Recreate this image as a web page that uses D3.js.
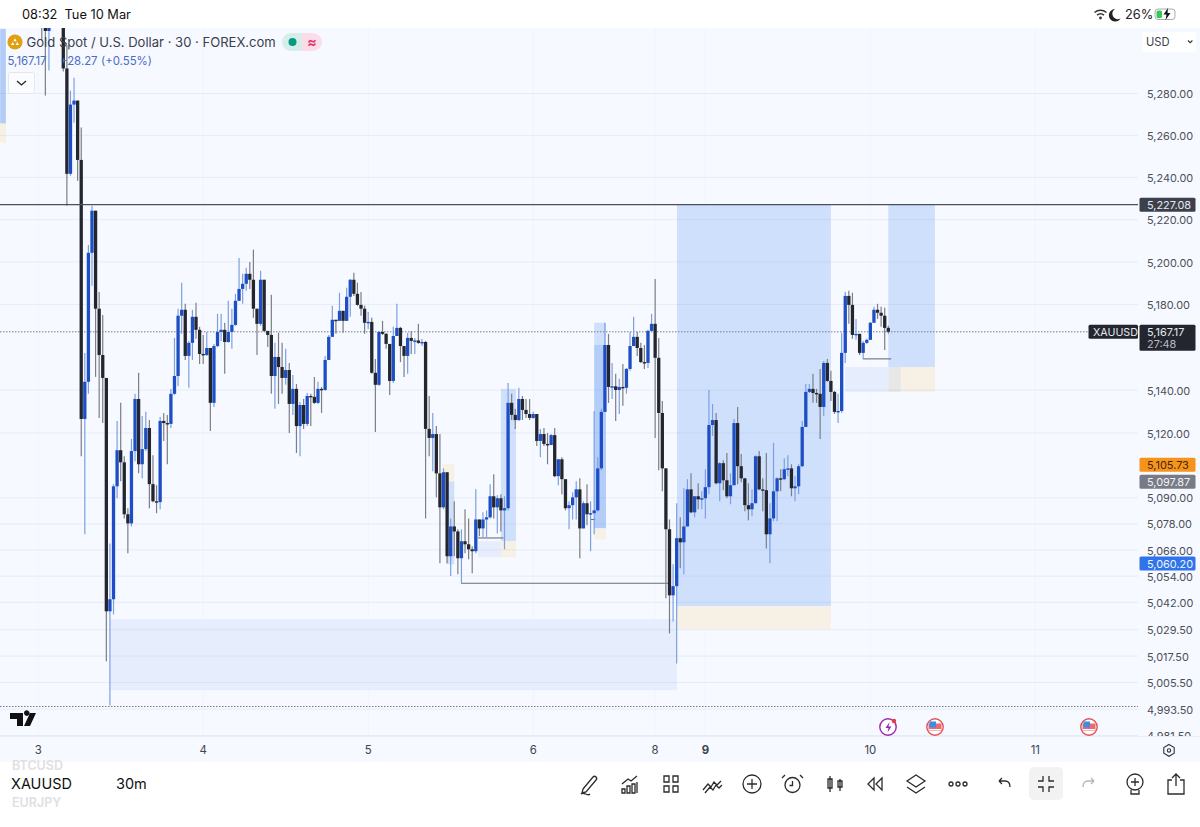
<!DOCTYPE html>
<html>
<head>
<meta charset="utf-8">
<script src="https://cdn.jsdelivr.net/npm/d3@7"></script>
<style>
html,body{margin:0;padding:0;background:#fff;overflow:hidden}
text{font-family:Inter,"Noto Sans",sans-serif}
</style>
</head>
<body>
<script>
// 30m XAUUSD bars, oldest first. A bar opens where the previous one closed.
var firstOpen = 5320;
var closes = [
5314.8,5310,5314.8,5320,5324,5318,5292,5241.7,5274.7,5276.6,5248.3,5126.5,5143.8,5204.3,5224.2,5178,5156.3,5145.6,5037.9,5043.4,
5095.3,5112,5106.4,5082.4,5078.2,5111.6,5135.8,5105.5,5112.5,5122.3,5096.3,5088.4,5088,5125.6,5124.6,5124.2,5138.2,5146.5,5174.7,5177.5,
5155.9,5162,5174.2,5168.1,5156.8,5156.3,5159.6,5134,5160.5,5167.1,5168.1,5162.4,5167.1,5170.4,5181.7,5187.3,5189.7,5194.4,5191.6,5178,
5170.9,5191.6,5167.6,5165.7,5146.5,5155.4,5150.7,5145.6,5149.3,5133.5,5140.5,5123.2,5133,5124.2,5137.2,5136.8,5134,5140.5,5140,5154,
5164.8,5172.8,5172.3,5177,5172.3,5183.6,5191.6,5185,5179.8,5178,5171.4,5171.8,5148,5142.4,5167.1,5166.2,5161.5,5144.2,5165.2,5169,
5160.5,5155.9,5164.3,5162.9,5163.1,5162,5162.4,5121.9,5117.7,5119.5,5101.3,5085.6,5101.8,5063.1,5076.8,5074.5,5062.2,5070,5068.6,5066.3,
5065.4,5080,5075.9,5080,5081,5090.7,5085.6,5089.8,5084.2,5085.2,5134,5128.4,5126,5135.8,5130.7,5128.8,5127,5128.8,5116.3,5119.5,
5114.9,5114.4,5119,5100,5107.8,5098.6,5085.2,5086.6,5090.2,5093.9,5075.9,5087.5,5082.4,5082.9,5084.2,5103.6,5129.8,5161,5141.4,5141.7,
5140,5141.4,5141,5149.8,5160.5,5164.8,5159.6,5153,5152.6,5167.6,5170.9,5155,5129.3,5103.6,5075.5,5045.2,5049.4,5071.4,5069.5,5076.8,
5093.9,5083.3,5090.7,5089.3,5089.8,5094.9,5123.7,5126,5096.7,5106,5098.1,5090.7,5095.8,5124.6,5104.6,5099,5086.6,5084.7,5087.5,5109.2,
5093.9,5093.5,5073.2,5080.5,5093,5099,5098.6,5103.2,5103.6,5094.4,5095.3,5104.6,5122.8,5139.1,5140.5,5138.6,5138.2,5132.1,5152.6,5144.2,
5139.1,5129.8,5130.2,5157.3,5184,5179.8,5165.7,5166.2,5157.3,5162,5163.4,5171.4,5177.5,5176.1,5174.7,5169,5167.17
];
var highs = [
5319.6,5317,5319.6,5326,5330,5328,5322,5303,5281.4,5287.6,5276.6,5263.7,5157.3,5208,5226.5,5224.2,5185.9,5175.1,5145.6,5069,
5096.3,5125.6,5134,5109.2,5085.2,5117.2,5138.2,5148,5127.9,5129.8,5126,5109.7,5095.8,5127.4,5129.3,5128.4,5140.5,5164.3,5178,5190.2,
5180.3,5162.9,5177.5,5180.8,5169.5,5165.7,5167.1,5159.6,5161.5,5175.6,5175.6,5171.4,5181.7,5178,5185,5201.9,5194.4,5197.2,5200,5205.8,
5178,5195.8,5191.6,5167.6,5184.5,5162,5166.7,5162,5159.2,5152.6,5147,5142.8,5134.4,5135.8,5138.6,5138.2,5146.1,5143.8,5141.4,5155.9,
5165.7,5179.4,5172.8,5185.5,5177,5187.8,5192,5194.9,5190.2,5185.9,5179.4,5176.5,5173.7,5154.5,5167.6,5172.3,5166.7,5161.5,5169.5,5180.3,
5169.5,5160.5,5166.7,5167.6,5164.3,5170.9,5163.8,5162.9,5137.2,5129.3,5123.2,5119.5,5103.6,5101.8,5080.5,5088.4,5075.5,5075.5,5084.7,5080.5,
5067.7,5093.9,5080,5083.3,5084.2,5096.3,5100.9,5091.2,5091.6,5090.7,5143.3,5138.2,5131.2,5141,5137.2,5135.8,5135.8,5129.8,5128.8,5121.9,
5122.3,5120,5119.5,5122.3,5107.8,5108.7,5098.6,5088.4,5092.6,5097.6,5099,5088.4,5096.3,5088.4,5130.2,5108.7,5131.2,5171.4,5166.2,5152.6,
5147.5,5145.2,5152.1,5150.2,5167.1,5174.2,5167.1,5162,5161,5168.1,5175.6,5192,5164.3,5134.9,5103.6,5080,5059.4,5087.5,5081,5094.4,
5098.6,5101.3,5090.7,5096.7,5093,5103.2,5140,5133.5,5129.3,5106.4,5107.3,5110.7,5101.3,5126.5,5132.1,5110.2,5099,5096.7,5093.9,5109.7,
5111.6,5099,5110.7,5087.5,5115.4,5099.5,5103.2,5108.3,5109.7,5105.5,5100,5105.5,5125.6,5142.8,5142.8,5147.5,5140.5,5149.8,5153.5,5154.5,
5148.9,5139.6,5138.2,5166.7,5185.9,5186.4,5185.5,5173.2,5166.2,5162.9,5163.9,5171.8,5178.9,5180.3,5178.9,5178.5,5170
];
var lows = [
5305.3,5279,5291,5313,5316,5313,5290.5,5226.5,5240.8,5266,5238.4,5109.2,5073.2,5138.2,5188.8,5146.1,5127,5124.6,5015.1,4995.1,
5036.5,5089.8,5097.6,5080.5,5064.5,5076.8,5106.9,5101.3,5099,5111.6,5085.2,5088,5082.9,5084.7,5116.3,5105.5,5122.3,5137.7,5141.9,5166.2,
5154,5141,5154,5163.9,5152.1,5152.1,5155.9,5120.9,5132.1,5160,5162.9,5147.5,5162,5159.2,5169.9,5181.7,5180.3,5186.4,5187.3,5173.7,
5156.3,5169.9,5167.1,5160,5138.2,5131.2,5133.5,5138.2,5142.4,5120,5128.4,5110.7,5109.2,5121.9,5123.2,5123.2,5133.5,5133.5,5129.3,5139.6,
5159.2,5164.8,5166.2,5172.3,5166.7,5172.3,5174.2,5184,5179.4,5174.7,5166.2,5168.5,5147.5,5120.5,5141.9,5165.7,5159.2,5137.7,5143.3,5165.2,
5153,5146.1,5147.5,5156.8,5156.8,5161.5,5160.5,5080.5,5109.2,5102.3,5090.2,5059.9,5084.7,5059.9,5054,5063.1,5054.9,5050.7,5064.5,5061.7,
5055.3,5064.5,5072.3,5071.9,5071.9,5080.5,5080.5,5073.6,5074.5,5066.3,5084.2,5126,5121.9,5125.6,5126,5127,5126,5126.5,5113.9,5108.7,
5113.9,5105.5,5114.4,5099.5,5095.8,5091.6,5084.2,5075.5,5080,5080,5062.2,5075.9,5077.3,5065.4,5073.2,5083.8,5102.7,5129.8,5134,5135.8,
5125.6,5128.8,5132.6,5138.2,5148.9,5160.5,5155.9,5152.6,5149.8,5150.2,5167.1,5117.7,5102.7,5093,5043.9,5027.8,5033.3,5014.1,5057.6,5054.9,
5076.8,5082.9,5081,5084.7,5084.7,5080.5,5091.6,5118.6,5096.3,5088.4,5093.5,5089.8,5087,5095.8,5096.3,5097.2,5083.8,5079.6,5081.5,5087.5,
5093.5,5083.8,5066.7,5059.9,5079.2,5079.2,5093,5098.1,5100,5090.7,5088.4,5091.6,5104.1,5123.2,5138.6,5134,5134,5117.2,5127.9,5143.8,
5134.9,5128.8,5124.6,5129.3,5152.6,5170.9,5163.9,5163.4,5156.3,5154.5,5161.5,5163.4,5171.4,5173.2,5169.5,5158.7,5166.2
];

var priceTicks = [5280,5260,5240,5220,5200,5180,5140,5120,5090,5078,5066,5054,5042,5029.5,5017.5,5005.5,4993.5,4981.5];

// date ticks, counted in bars back from the latest bar
var dateLabels = ["3","4","5","6","8","9","10","11"];
var dateBarsBack = [237,191,145,99,65,51,5,-41];

// marked zones: kind, bars back from / to, top and bottom price
var zoneKinds  = ["blue","orange","light","blue","light","grey","orange","blue2","orange","blue","orange","light","blue","blue2","orange","blue","orange"];
var zoneFrom   = [58.9,58.9,216.9,0,12,0,-3.5,247.6,247.6,108,108,114.4,82,82,82,123.2,124.3];
var zoneTo     = [16,16,58.9,-13,0,-3.5,-13,246,246,103.8,103.8,108,78.7,78.7,78.7,121,121];
var zoneTop    = [5227.08,5040.2,5034.3,5227.08,5150.7,5150.7,5150.7,5311,5265.6,5140.5,5070,5070,5171.4,5161,5075.9,5097.6,5105.5];
var zoneBottom = [5040.2,5029.7,5002,5150.7,5139.1,5139.1,5139.1,5265.6,5256.5,5070,5062.7,5062.7,5161,5075.9,5070.9,5059.4,5097.6];

var levelPrices = [5050.7,5071.5,5154.5,5080];
var levelFrom   = [119.1,114.4,7.1,83];
var levelTo     = [61,107.3,-0.8,81.7];

var highLine = 5227.08, lastPrice = 5167.17, lowDotted = 4994.6;
var tagValues = [5105.73,5097.87,5060.20];
var tagFills  = ["#f7931a","#787b86","#2f74ea"];
var tagInks   = ["#3d2a10","#f2f3f5","#eef4ff"];

var W = 1200, H = 827, axisX = 1138, chartTop = 28, chartBottom = 736;
var upBody = "#1d4ec4", downBody = "#23262f", upWick = "#7d9fe2", downWick = "#7c7e84";

var svg = d3.select("body").append("svg").attr("width",W).attr("height",H).style("display","block");
svg.append("rect").attr("width",W).attr("height",H).attr("fill","#fff");
svg.append("rect").attr("y",chartTop).attr("width",W).attr("height",762-chartTop).attr("fill","#f6f9ff");

var n = closes.length;
var opens = closes.map(function(c,i){return i==0 ? firstOpen : closes[i-1]});
var y = d3.scaleLog().domain([4981.5,5280]).range([735.5,93.5]);
var xBack = d3.scaleLinear().domain([0,100]).range([888.3,888.3-358.7]);
var x = function(i){return xBack(n-1-i)};

var defs = svg.append("defs");
defs.append("clipPath").attr("id","plot").append("rect")
    .attr("y",chartTop).attr("width",axisX).attr("height",chartBottom-chartTop);
defs.append("clipPath").attr("id","scale").append("rect")
    .attr("x",-10).attr("y",chartTop).attr("width",70).attr("height",chartBottom-chartTop);
var plot = svg.append("g").attr("clip-path","url(#plot)");

// vertical grid
plot.selectAll(".vgrid").data(dateBarsBack).enter().append("line").attr("class","vgrid")
    .attr("x1",xBack).attr("x2",xBack).attr("y1",chartTop).attr("y2",chartBottom)
    .attr("stroke","#f1f4fb");

// zones
var zoneFill = {blue:"#cfe0fc",blue2:"#b4cdf8",orange:"#f7f0e5",light:"#e6edfd",grey:"#e8e7e8"};
plot.selectAll(".zone").data(zoneKinds).enter().append("rect").attr("class","zone")
    .attr("x",function(d,i){return xBack(zoneFrom[i])})
    .attr("width",function(d,i){return xBack(zoneTo[i])-xBack(zoneFrom[i])})
    .attr("y",function(d,i){return y(zoneTop[i])})
    .attr("height",function(d,i){return y(zoneBottom[i])-y(zoneTop[i])})
    .attr("fill",function(d){return zoneFill[d]});

// price grid
plot.selectAll(".hgrid").data(priceTicks).enter().append("line").attr("class","hgrid")
    .attr("x1",0).attr("x2",axisX).attr("y1",y).attr("y2",y)
    .attr("stroke","#7d8db0").attr("stroke-opacity",0.12);

// short drawn levels
plot.selectAll(".level").data(levelPrices).enter().append("line").attr("class","level")
    .attr("x1",function(d,i){return xBack(levelFrom[i])})
    .attr("x2",function(d,i){return xBack(levelTo[i])})
    .attr("y1",y).attr("y2",y)
    .attr("stroke","#6b6e75").attr("stroke-width",1.1);

// dotted price lines
plot.append("line").attr("x1",0).attr("x2",1090).attr("y1",y(lastPrice)).attr("y2",y(lastPrice))
    .attr("stroke","#777b84").attr("stroke-dasharray","1.5 1.5");
plot.append("line").attr("x1",0).attr("x2",axisX).attr("y1",y(lowDotted)).attr("y2",y(lowDotted))
    .attr("stroke","#777b84").attr("stroke-dasharray","1.5 1.5");

// candles
var isUp = function(i){return closes[i] >= opens[i]};
plot.selectAll(".wick").data(closes).enter().append("line").attr("class","wick")
    .attr("x1",function(d,i){return x(i)}).attr("x2",function(d,i){return x(i)})
    .attr("y1",function(d,i){return y(highs[i])}).attr("y2",function(d,i){return y(lows[i])})
    .attr("stroke",function(d,i){return isUp(i) ? upWick : downWick}).attr("stroke-width",1.2);
plot.selectAll(".body").data(closes).enter().append("rect").attr("class","body")
    .attr("x",function(d,i){return x(i)-1.65}).attr("width",3.3)
    .attr("y",function(d,i){return y(Math.max(opens[i],closes[i]))})
    .attr("height",function(d,i){return Math.max(1.4,Math.abs(y(opens[i])-y(closes[i])))})
    .attr("fill",function(d,i){return isUp(i) ? upBody : downBody});

// the level at 5,227.08 runs over the candles
plot.append("line").attr("x1",0).attr("x2",axisX).attr("y1",y(highLine)).attr("y2",y(highLine))
    .attr("stroke","#4d5058").attr("stroke-width",1.1);

// price axis
var yAxis = d3.axisRight(y).tickValues(priceTicks).tickFormat(d3.format(",.2f")).tickSize(0).tickPadding(0);
var axisG = svg.append("g").attr("transform","translate(1147,0.6)").attr("clip-path","url(#scale)").call(yAxis);
axisG.select(".domain").remove();
axisG.selectAll("text").style("font-family","Inter,sans-serif").style("font-size","10.9px").attr("fill","#4b4f58");

function label(x0,y0,txt,size,fill,weight){
    return svg.append("text").attr("x",x0).attr("y",y0).attr("font-size",size).attr("fill",fill)
        .attr("font-weight",weight||400).text(txt);
}
function tag(val,fill,ink,yy){
    svg.append("rect").attr("x",1139.5).attr("y",yy-7).attr("width",56).attr("height",14).attr("rx",1.5).attr("fill",fill);
    label(1147,yy+4.2,d3.format(",.2f")(val),10.9,ink);
}
tag(highLine,"#3c404d","#e8e9ec",y(highLine));
tagValues.forEach(function(v,i){tag(v,tagFills[i],tagInks[i],y(v)+1)});

// last price tag
svg.append("rect").attr("x",1139.5).attr("y",y(lastPrice)-7).attr("width",56).attr("height",26).attr("rx",1.5).attr("fill","#23262f");
label(1147,y(lastPrice)+4,d3.format(",.2f")(lastPrice),10.9,"#e8e9ec");
label(1147,y(lastPrice)+16,"27:48",10.9,"#b9bbc2");
svg.append("rect").attr("x",1088.5).attr("y",y(lastPrice)-7).attr("width",49.5).attr("height",14).attr("rx",1.5).attr("fill","#23262f");
label(1093,y(lastPrice)+4.2,"XAUUSD",10.7,"#e8e9ec");

// date axis
svg.append("line").attr("x1",0).attr("x2",W).attr("y1",736.5).attr("y2",736.5).attr("stroke","#e9edf5");
svg.selectAll(".date").data(dateLabels).enter().append("text").attr("class","date")
    .attr("x",function(d,i){return xBack(dateBarsBack[i])}).attr("y",754)
    .attr("text-anchor","middle").attr("font-size",11.4).attr("fill","#3f434c")
    .attr("font-weight",function(d){return d=="9" ? 700 : 400}).text(function(d){return d});
// settings hexagon
svg.append("path").attr("d","M1169 744.5l5.2 3v5.8l-5.2 3-5.2-3v-5.8z").attr("fill","none").attr("stroke","#33363d").attr("stroke-width",1.1);
svg.append("circle").attr("cx",1169).attr("cy",750.4).attr("r",1.7).attr("fill","none").attr("stroke","#33363d").attr("stroke-width",1.1);

// TradingView mark
svg.append("path").attr("d","M10 713h13v13h-6v-7h-7zM30 713h6l-6 13h-6zM24 713a2.8 2.8 0 1 1 0 .1z").attr("fill","#111");

// event icons
function flag(cx){
    svg.append("circle").attr("cx",cx).attr("cy",727).attr("r",8.2).attr("fill","#fff").attr("stroke","#e0525a").attr("stroke-width",1.4);
    svg.append("rect").attr("x",cx-6.5).attr("y",723.5).attr("width",13).attr("height",7.5).attr("fill","#ee6a70");
    svg.append("rect").attr("x",cx-5.5).attr("y",721.5).attr("width",6.5).attr("height",6).attr("fill","#3f8de0");
    svg.append("rect").attr("x",cx-6).attr("y",729).attr("width",12).attr("height",1.5).attr("fill","#fff");
}
flag(935); flag(1089);
svg.append("circle").attr("cx",888).attr("cy",727).attr("r",8.2).attr("fill","#fff").attr("stroke","#9c27b0").attr("stroke-width",1.4);
svg.append("path").attr("d","M889.5 722l-4 6h3l-1 4.5 4-6h-3z").attr("fill","#9c27b0");
svg.append("circle").attr("cx",894).attr("cy",721).attr("r",2.2).attr("fill","#e8393f");

// top status bar
svg.append("rect").attr("width",W).attr("height",chartTop).attr("fill","#fff");
label(22,18.5,"08:32",12.8,"#111");
label(64.5,18.5,"Tue 10 Mar",12.8,"#111");
svg.append("path").attr("d","M1094.5 12.5a9.5 9.5 0 0 1 12 0M1097 15.2a5.5 5.5 0 0 1 7 0").attr("fill","none").attr("stroke","#333").attr("stroke-width",1.5);
svg.append("circle").attr("cx",1100.5).attr("cy",18).attr("r",1.4).attr("fill","#333");
svg.append("path").attr("d","M1115 9a6.3 6.3 0 1 0 5.6 9.5a5.5 5.5 0 0 1 -5.6 -9.5z").attr("fill","#222");
label(1125,18.5,"26%",12.8,"#222");
svg.append("rect").attr("x",1155).attr("y",9).attr("width",20).attr("height",10.5).attr("rx",3).attr("fill","none").attr("stroke","#aaa");
svg.append("rect").attr("x",1156.5).attr("y",10.5).attr("width",5.5).attr("height",7.5).attr("rx",1.5).attr("fill","#34c759");
svg.append("path").attr("d","M1168 8l-4.5 6.5h3l-1 5.5 5-7h-3z").attr("fill","#111");

// header legend
svg.append("circle").attr("cx",15).attr("cy",42).attr("r",7.6).attr("fill","#e0a012");
svg.append("path").attr("d","M11 45h3.4l-1.7-3zM15.6 45h3.4l-1.7-3zM13.3 41.2h3.4l-1.7-3z").attr("fill","#fff");
label(26.5,47,"Gold Spot / U.S. Dollar · 30 · FOREX.com",13.05,"#3b3f4b");
svg.append("path").attr("d","M291 33h11v18h-11a9 9 0 0 1 0-18z").attr("fill","#d6eeea");
svg.append("path").attr("d","M302 33h11a9 9 0 0 1 0 18h-11z").attr("fill","#fbdde9");
svg.append("circle").attr("cx",292.5).attr("cy",42).attr("r",4).attr("fill","#089981");
svg.append("text").attr("x",312).attr("y",46.5).attr("text-anchor","middle").attr("font-size",14).attr("font-weight",700).attr("fill","#e5396d").text("≈");
label(7.5,65,"5,167.17",11.4,"#4a6cc4");
label(60,65,"+28.27",11.4,"#4a6cc4");
label(101,65,"(+0.55%)",11.4,"#4a6cc4");
svg.append("rect").attr("x",8.5).attr("y",72.5).attr("width",26).attr("height",21).attr("rx",2).attr("fill","#fbfcff").attr("stroke","#e3e6ec");
svg.append("path").attr("d","M17 81l4.5 4 4.5-4").attr("fill","none").attr("stroke","#222").attr("stroke-width",1.3);

// currency button
svg.append("rect").attr("x",1142.5).attr("y",32).attr("width",53.5).attr("height",20).attr("rx",2).attr("fill","#fff");
label(1146,46,"USD",11.2,"#3b3f4b");
svg.append("path").attr("d","M1188 40.5l2.2 2.2 2.2-2.2").attr("fill","none").attr("stroke","#333").attr("stroke-width",1.1);

// bottom toolbar
svg.append("rect").attr("y",762).attr("width",W).attr("height",H-762).attr("fill","#fff");
label(12,770,"BTCUSD",12.5,"#dfe0e2",600);
label(11,788.5,"XAUUSD",14.5,"#111");
label(12,806.5,"EURJPY",12.5,"#dfe0e2",600);
label(116,788.5,"30m",14.5,"#111");
svg.append("rect").attr("x",1029).attr("y",767).attr("width",34).attr("height",33).attr("rx",5).attr("fill","#f2f2f3");

var toolbarX = [589,630,671,712,752,793,835,875,916,958,1005,1046,1088,1135,1176];
var toolbarIcons = [
    "M-8 10c3-3 6 3 9 0M-6 5L4-7c2-2 5 1 3 3L-3 8l-4 1z",
    "M-8 9v-4h3v4zM-3 9v-7h3v7zM2 9v-9h3v9zM7 9v-11M-8 0l6-5 3 2 6-5",
    "M-7-8h5v6h-5zM2-8h5v6h-5zM-7 2h5v6h-5zM2 2h5v6h-5z",
    "M-9 6l5-6 3 3 3-5 3 3 4-4M-7 9l5-6 3 3 3-5 3 3 3-3",
    "M9 0a9 9 0 1 1-18 0a9 9 0 1 1 18 0M-5 0h10M0-5v10",
    "M7 1a7.5 7.5 0 1 1-15 0a7.5 7.5 0 1 1 15 0M-.5-3v4.5h-3M-8-9l-3 3M7-9l3 3",
    "M-5-8v16M-7-5h4v9h-4zM5-5v12M3-3h4v6h-4z",
    "M-1-6l-6 6 6 6zM7-6l-6 6 6 6z",
    "M0-9l9 6-9 6-9-6zM-9 3l9 6 9-6",
    "M-5 0a2 2 0 1 1-4 0a2 2 0 1 1 4 0M2 0a2 2 0 1 1-4 0a2 2 0 1 1 4 0M9 0a2 2 0 1 1-4 0a2 2 0 1 1 4 0",
    "M-6-3l3-3M-6-3l3 3M-6-3h6c3 0 5 2 5 6",
    "M-3-8v5h-5M3-8v5h5M-3 8v-5h-5M3 8v-5h5",
    "M6-3l-3-3M6-3l-3 3M6-3h-6c-3 0-5 2-5 6",
    "M8-2a8 8 0 1 1-16 0a8 8 0 1 1 16 0M-4-2h8M0-6v8M-4 6v4h8v-4",
    "M-3-9h-0M0-10v12M-4-6l4-4 4 4M-4-4h-4v14h16v-14h-4"
];
svg.selectAll(".tool").data(toolbarIcons).enter().append("path").attr("class","tool")
    .attr("transform",function(d,i){return "translate("+toolbarX[i]+",784)"})
    .attr("d",function(d){return d})
    .attr("fill","none")
    .attr("stroke",function(d,i){return i==12 ? "#b5b6b9" : "#2b2b2e"})
    .attr("stroke-width",1.3);
</script>
</body>
</html>
